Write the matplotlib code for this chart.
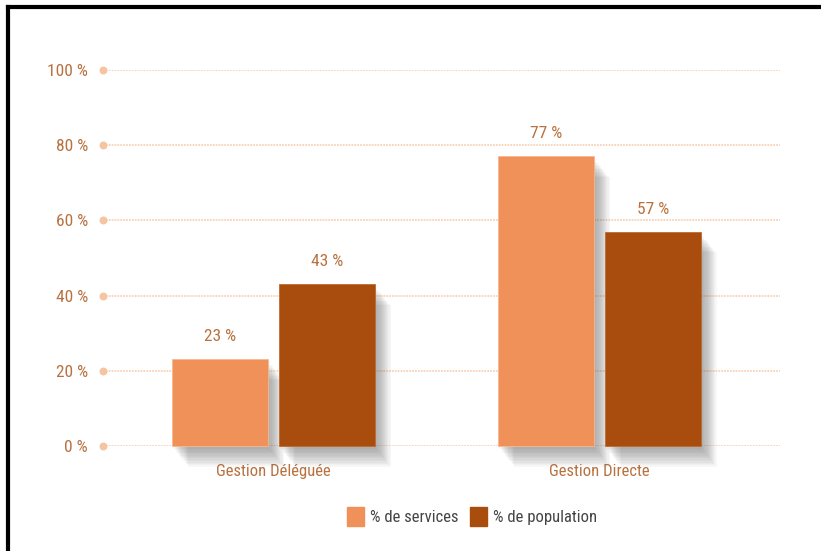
import numpy as np
import matplotlib.pyplot as plt
import matplotlib.patheffects as pe
from matplotlib.patches import Patch

# data
categories = ['Gestion Déléguée', 'Gestion Directe']
services = [23, 77]
population = [43, 57]
yticks = [0, 20, 40, 60, 80, 100]
series_names = ['% de services', '% de population']

c_serv = '#F0915A'
c_pop = '#A84D0E'
c_txt = '#B8713F'
c_grid = '#F8D3B8'

plt.rcParams['font.family'] = ['Roboto Condensed', 'Liberation Sans Narrow', 'DejaVu Sans']
plt.rcParams['font.stretch'] = 'condensed'

fig = plt.figure(figsize=(8.21, 5.51), dpi=100)
ax = fig.add_axes([0.1255, 0.1906, 0.8245, 0.6824])

x = np.arange(len(categories))
w = 0.294
off = 0.164

# soft shadow made from stacked offset copies
shadow = []
for i in range(14):
    shadow.append(pe.SimplePatchShadow(offset=(1 + i * 0.8, -2 - i * 1.0),
                                       shadow_rgbFace='#5a5a5a', alpha=0.045))
shadow.append(pe.Normal())

b1 = ax.bar(x - off, services, w, color=c_serv, zorder=3, clip_on=False,
            edgecolor='#F6B890', linewidth=0.6)
b2 = ax.bar(x + off, population, w, color=c_pop, zorder=3, clip_on=False,
            edgecolor='#C06A30', linewidth=0.6)
for bars in (b1, b2):
    for b in bars:
        b.set_path_effects(shadow)

for xi, v in zip(x - off, services):
    ax.text(xi, v + 4, f'{v} %', ha='center', va='bottom', color=c_txt, fontsize=12.5)
for xi, v in zip(x + off, population):
    ax.text(xi, v + 4, f'{v} %', ha='center', va='bottom', color=c_txt, fontsize=12.5)

ax.set_xlim(-0.523, 1.554)
ax.set_ylim(0, 100)

# gridlines with dot at left end
for t in yticks:
    ax.axhline(t, color=c_grid, lw=1.3, ls=(0, (1, 0.6)), zorder=1)
ax.scatter([-0.523] * len(yticks), yticks, s=22, color='#F5C4A0', zorder=4, clip_on=False)

ax.set_yticks(yticks)
ax.set_yticklabels([f'{t} %' for t in yticks], color=c_txt, fontsize=12.5)
ax.set_xticks(x)
ax.set_xticklabels(categories, color=c_txt, fontsize=12)
ax.tick_params(axis='y', length=0, pad=11)
ax.tick_params(axis='x', length=0, pad=13)
for s in ax.spines.values():
    s.set_visible(False)

handles = [Patch(color=c_serv), Patch(color=c_pop)]
fig.legend(handles, series_names, loc='center', bbox_to_anchor=(0.575, 0.062),
           ncol=2, frameon=False, fontsize=12, handlelength=1.0, handleheight=1.4,
           handletextpad=0.35, columnspacing=0.7, labelcolor='#444444')

# frame lines (top and left)
fig.add_artist(plt.Line2D([0.0097, 1.0], [0.9873, 0.9873], color='black', lw=3))
fig.add_artist(plt.Line2D([0.0097, 0.0097], [0.0, 0.9873], color='black', lw=3))

fig.savefig('out.png', dpi=100)
